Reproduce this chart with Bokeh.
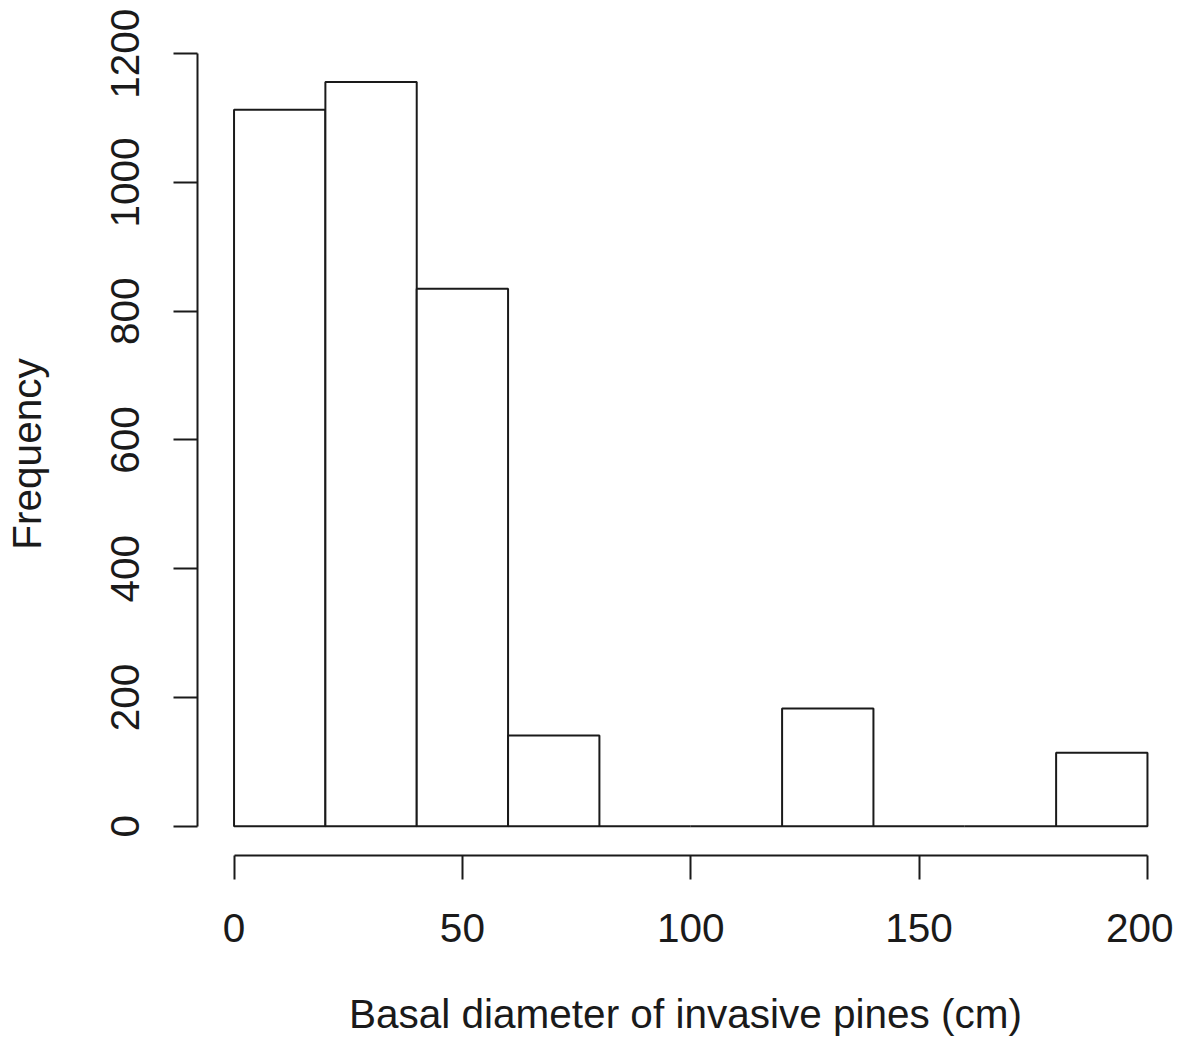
from bokeh.plotting import figure
from bokeh.models import Range1d, FixedTicker
from bokeh.embed import file_html
from bokeh.resources import INLINE

# Histogram data
breaks = [0, 20, 40, 60, 80, 100, 120, 140, 160, 180, 200]
counts = [1113, 1156, 835, 141, 0, 0, 183, 0, 0, 114]
x_ticks = [0, 50, 100, 150, 200]
y_ticks = [0, 200, 400, 600, 800, 1000, 1200]
x_title = "Basal diameter of invasive pines (cm)"
y_title = "Frequency"

FONT = "Liberation Sans"
INK = "#1a1a1a"
FS = "40.5px"

p = figure(width=1173, height=1041, output_backend="svg", toolbar_location=None,
           x_range=Range1d(-8, 205.7), y_range=Range1d(-45.5, 1202.0),
           min_border_left=197, min_border_right=0, min_border_top=52, min_border_bottom=186)
p.outline_line_color = None
p.xgrid.visible = False
p.ygrid.visible = False
p.background_fill_color = "white"
p.border_fill_color = "white"

p.quad(left=breaks[:-1], right=breaks[1:], bottom=0, top=counts,
       fill_color="white", line_color=INK, line_width=2)

for ax, ticks, title in ((p.xaxis[0], x_ticks, x_title), (p.yaxis[0], y_ticks, y_title)):
    ax.ticker = FixedTicker(ticks=ticks)
    ax.bounds = (ticks[0], ticks[-1])
    ax.minor_tick_line_color = None
    ax.major_tick_in = 0
    ax.major_tick_out = 24
    ax.major_tick_line_width = 2
    ax.major_tick_line_color = INK
    ax.axis_line_width = 2
    ax.axis_line_color = INK
    ax.major_label_text_font = FONT
    ax.major_label_text_font_size = FS
    ax.major_label_text_color = INK
    ax.axis_label = title
    ax.axis_label_text_font = FONT
    ax.axis_label_text_font_size = FS
    ax.axis_label_text_font_style = "normal"
    ax.axis_label_text_color = INK

p.yaxis[0].major_label_orientation = "parallel"
p.yaxis[0].major_label_standoff = 34
p.yaxis[0].axis_label_standoff = 59
p.xaxis[0].major_label_standoff = 34
p.xaxis[0].axis_label_standoff = 46

open("out.html", "w").write(file_html(p, INLINE))
